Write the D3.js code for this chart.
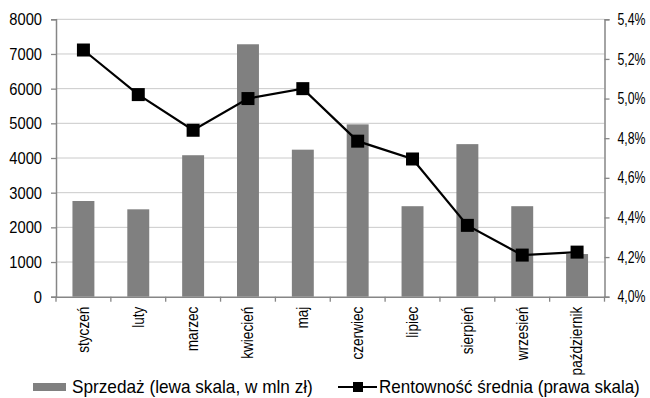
<!DOCTYPE html>
<html><head><meta charset="utf-8">
<script src="https://cdn.jsdelivr.net/npm/d3@7"></script>
<style>
body{margin:0;background:#fff;}
text{font-family:"Liberation Sans",Arial,sans-serif;fill:#000;}
</style></head>
<body><svg id="c" width="650" height="398"></svg>
<script>
const months = ["styczeń","luty","marzec","kwiecień","maj","czerwiec","lipiec","sierpień","wrzesień","październik"];
const sales = [2760, 2520, 4080, 7280, 4240, 4970, 2610, 4400, 2610, 1230];
const profit = [5.245, 5.02, 4.84, 5.00, 5.05, 4.785, 4.695, 4.36, 4.21, 4.225];
const leftTicks = [0,1000,2000,3000,4000,5000,6000,7000,8000];
const rightTicks = [4.0,4.2,4.4,4.6,4.8,5.0,5.2,5.4];
const legendLabels = ["Sprzedaż (lewa skala, w mln zł)","Rentowność średnia (prawa skala)"];

const svg = d3.select("#c");
const L = 56, R = 604.5, T = 19.3, B = 296.7;
const x = d3.scaleBand().domain(months).range([L,R]).padding(0);
const yL = d3.scaleLinear().domain([0,8000]).range([B,T]);
const yR = d3.scaleLinear().domain([4.0,5.4]).range([B,T]);
const axisCol = "#868686";

// gridlines
svg.append("g").selectAll("line").data(leftTicks.slice(1)).join("line")
  .attr("x1",L).attr("x2",R).attr("y1",d=>yL(d)).attr("y2",d=>yL(d))
  .attr("stroke","#cacaca").attr("stroke-width",1);

// bars
const bw = x.bandwidth()*0.4;
svg.append("g").selectAll("rect").data(sales).join("rect")
  .attr("x",(d,i)=>x(months[i])+x.bandwidth()/2-bw/2)
  .attr("width",bw)
  .attr("y",d=>yL(d)).attr("height",d=>B-yL(d))
  .attr("fill","#808080");

// axes
const gL = svg.append("g").attr("transform",`translate(${L},0)`)
  .call(d3.axisLeft(yL).tickValues(leftTicks).tickSize(5).tickPadding(9).tickFormat(d3.format("d")));
const gR = svg.append("g").attr("transform",`translate(${R},0)`)
  .call(d3.axisRight(yR).tickValues(rightTicks).tickSize(5).tickPadding(8).tickFormat(d=>d3.format(".1f")(d).replace(".",",")+"%"));
const gB = svg.append("g").attr("transform",`translate(0,${B})`)
  .call(d3.axisBottom(x).tickSize(0).tickPadding(0));
// boundary ticks
svg.append("g").selectAll("line").data(d3.range(months.length+1)).join("line")
  .attr("x1",i=>L+i*x.bandwidth()).attr("x2",i=>L+i*x.bandwidth())
  .attr("y1",B).attr("y2",B+5).attr("stroke",axisCol).attr("stroke-width",1.3);

[gL,gR,gB].forEach(g=>{
  g.attr("font-family",null);
  g.select(".domain").attr("stroke",axisCol).attr("stroke-width",1.5);
  g.selectAll(".tick line").attr("stroke",axisCol).attr("stroke-width",1.3);
  g.selectAll("text").attr("fill","#000");
});
const fL = 0.865, fR = 0.77, fB = 0.85;
gL.selectAll(".tick text").attr("font-size",17)
  .attr("x",-14/fL).attr("transform",`scale(${fL},1)`);
gR.selectAll(".tick text").attr("font-size",16)
  .attr("x",13/fR).attr("transform",`scale(${fR},1)`);
gB.selectAll(".tick text").attr("font-size",16)
  .attr("transform",`rotate(-90) scale(${fB},1)`).attr("text-anchor","end")
  .attr("x",-10/fB).attr("y",0).attr("dy","0.33em");

// line
const line = d3.line().x((d,i)=>x(months[i])+x.bandwidth()/2).y(d=>yR(d));
svg.append("path").datum(profit).attr("d",line).attr("fill","none")
  .attr("stroke","#000").attr("stroke-width",2.2);
const ms = 13;
svg.append("g").selectAll("rect").data(profit).join("rect")
  .attr("x",(d,i)=>x(months[i])+x.bandwidth()/2-ms/2).attr("y",d=>yR(d)-ms/2)
  .attr("width",ms).attr("height",ms).attr("fill","#000");

// legend
const ly = 387;
function fitText(x0, target, label){
  const t = svg.append("text").attr("x",0).attr("y",ly).attr("dy","0.36em")
    .attr("font-size",18).text(label);
  const w = t.node().getComputedTextLength();
  const f = Math.min(1.03, target / w);
  t.attr("transform",`translate(${x0},0) scale(${f},1)`);
}
svg.append("rect").attr("x",33).attr("y",ly-4).attr("width",33).attr("height",8).attr("fill","#808080");
fitText(72, 241, legendLabels[0]);
svg.append("line").attr("x1",338).attr("x2",377).attr("y1",ly).attr("y2",ly).attr("stroke","#000").attr("stroke-width",2);
svg.append("rect").attr("x",353).attr("y",ly-5).attr("width",10).attr("height",10).attr("fill","#000");
fitText(379, 261, legendLabels[1]);
</script></body></html>
